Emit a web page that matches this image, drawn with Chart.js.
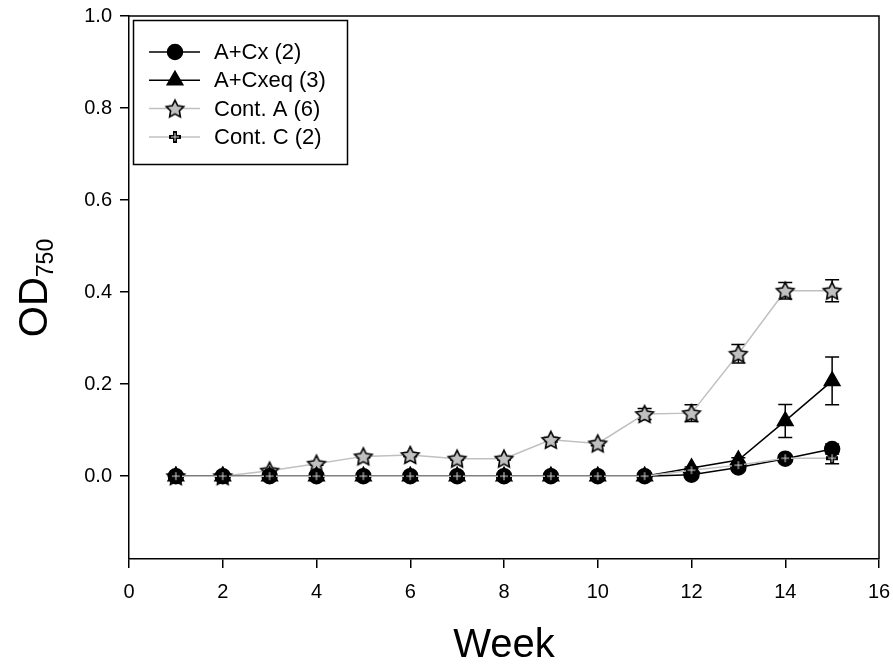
<!DOCTYPE html>
<html>
<head>
<meta charset="utf-8">
<script src="https://cdn.jsdelivr.net/npm/chart.js@4.4.1/dist/chart.umd.min.js"></script>
<style>
    body { margin: 0; background: #fff; }
    canvas { display: block; }
</style>
</head>
<body>
<canvas id="myChart" width="893" height="664"></canvas>
<script>
// Weeks on the x axis
const weeks = [1, 2, 3, 4, 5, 6, 7, 8, 9, 10, 11, 12, 13, 14, 15];

// OD750 means
const acx     = [0, 0, 0, 0, 0, 0, 0, 0, 0, 0, 0, 0.003, 0.019, 0.038, 0.059];
const acxeq   = [0, 0, 0, 0, 0, 0, 0, 0, 0, 0, 0, 0.018, 0.035, 0.120, 0.207];
const contA   = [0, 0, 0.012, 0.027, 0.043, 0.046, 0.038, 0.038, 0.079, 0.071, 0.135, 0.137, 0.266, 0.403, 0.403];
const contC   = [0, 0, 0, 0, 0, 0, 0, 0, 0, 0, 0, 0.013, 0.024, 0.039, 0.039];

// Error bar half-heights
const acxErr   = [0, 0, 0, 0, 0, 0, 0, 0, 0, 0, 0, 0, 0.003, 0.006, 0.011];
const acxeqErr = [0, 0, 0, 0, 0, 0, 0, 0, 0, 0, 0, 0.002, 0.005, 0.036, 0.052];
const contAErr = [0, 0, 0.002, 0.003, 0.003, 0.004, 0.003, 0.003, 0.005, 0.005, 0.012, 0.018, 0.020, 0.018, 0.024];
const contCErr = [0, 0, 0, 0, 0, 0, 0, 0, 0, 0, 0, 0.002, 0.004, 0.006, 0.012];

const seriesLabels = ['A+Cx (2)', 'A+Cxeq (3)', 'Cont. A (6)', 'Cont. C (2)'];
const xTicks = [0, 2, 4, 6, 8, 10, 12, 14, 16];
const yTicks = [0, 0.2, 0.4, 0.6, 0.8, 1.0];

const fontFamily = "'Liberation Sans', Arial, sans-serif";

// Star marker (grey fill, black outline)
function makeStar() {
    const c = document.createElement('canvas');
    c.width = 22;
    c.height = 22;
    const ctx = c.getContext('2d');
    ctx.beginPath();
    for (let i = 0; i < 10; i++) {
        const r = i % 2 === 0 ? 9.2 : 4.6;
        const a = -Math.PI / 2 + i * Math.PI / 5;
        const px = 11 + r * Math.cos(a);
        const py = 11.8 + r * Math.sin(a);
        if (i === 0) ctx.moveTo(px, py); else ctx.lineTo(px, py);
    }
    ctx.closePath();
    ctx.fillStyle = '#c0c0c0';
    ctx.fill();
    ctx.lineWidth = 1.6;
    ctx.strokeStyle = '#000';
    ctx.stroke();
    return c;
}

// Plus marker (black with light centre)
function makePlus() {
    const c = document.createElement('canvas');
    c.width = 12;
    c.height = 12;
    const ctx = c.getContext('2d');
    ctx.fillStyle = '#000';
    ctx.fillRect(4, 0, 4, 12);
    ctx.fillRect(0, 4, 12, 4);
    ctx.fillStyle = '#d8d8d8';
    ctx.fillRect(5.5, 2, 1, 8);
    ctx.fillRect(2, 5.5, 8, 1);
    return c;
}

const starImg = makeStar();
const plusImg = makePlus();

function toPoints(values) {
    return weeks.map((w, i) => ({ x: w, y: values[i] }));
}

const errorSets = [acxErr, acxeqErr, contAErr, contCErr];

// Draw vertical error bars under the markers
const errorBars = {
    id: 'errorBars',
    beforeDatasetsDraw(chart) {
        const ctx = chart.ctx;
        const xs = chart.scales.x;
        const ys = chart.scales.y;
        ctx.save();
        ctx.strokeStyle = '#000';
        ctx.lineWidth = 1.5;
        chart.data.datasets.forEach((ds, d) => {
            errorSets[d].forEach((e, i) => {
                if (!e) return;
                const px = xs.getPixelForValue(ds.data[i].x);
                const top = ys.getPixelForValue(ds.data[i].y + e);
                const bot = ys.getPixelForValue(ds.data[i].y - e);
                ctx.beginPath();
                ctx.moveTo(px, top);
                ctx.lineTo(px, bot);
                ctx.moveTo(px - 7, top);
                ctx.lineTo(px + 7, top);
                ctx.moveTo(px - 7, bot);
                ctx.lineTo(px + 7, bot);
                ctx.stroke();
            });
        });
        ctx.restore();
    }
};

// Box frame, axis titles and legend
const decorations = {
    id: 'decorations',
    afterDraw(chart) {
        const ctx = chart.ctx;
        const area = chart.chartArea;
        ctx.save();

        // top and right frame
        ctx.strokeStyle = '#000';
        ctx.lineWidth = 1.5;
        ctx.beginPath();
        ctx.moveTo(area.left, area.top);
        ctx.lineTo(area.right, area.top);
        ctx.lineTo(area.right, area.bottom);
        ctx.stroke();

        // x title
        ctx.fillStyle = '#000';
        ctx.font = '40px ' + fontFamily;
        ctx.textAlign = 'center';
        ctx.textBaseline = 'alphabetic';
        ctx.fillText('Week', (area.left + area.right) / 2, 657);

        // y title with subscript
        ctx.save();
        ctx.translate(47, 288);
        ctx.rotate(-Math.PI / 2);
        ctx.textAlign = 'left';
        ctx.font = '40px ' + fontFamily;
        const w1 = ctx.measureText('OD').width;
        ctx.font = '23px ' + fontFamily;
        const w2 = ctx.measureText('750').width;
        const start = -(w1 + w2) / 2;
        ctx.font = '40px ' + fontFamily;
        ctx.fillText('OD', start, 0);
        ctx.font = '23px ' + fontFamily;
        ctx.fillText('750', start + w1, 6);
        ctx.restore();

        // legend box
        ctx.lineWidth = 1.5;
        ctx.strokeRect(133.5, 20.5, 214, 144);
        ctx.font = '22px ' + fontFamily;
        ctx.textAlign = 'left';
        ctx.textBaseline = 'middle';
        chart.data.datasets.forEach((ds, d) => {
            const rowY = 52 + d * 28.3;
            ctx.strokeStyle = ds.borderColor;
            ctx.lineWidth = 1.5;
            ctx.beginPath();
            ctx.moveTo(149, rowY);
            ctx.lineTo(200, rowY);
            ctx.stroke();
            ctx.fillStyle = ds.pointBackgroundColor;
            ctx.strokeStyle = '#000';
            Chart.helpers.drawPoint(ctx, {
                pointStyle: ds.pointStyle,
                radius: ds.pointRadius,
                borderWidth: 1,
                rotation: 0
            }, 175, rowY);
            ctx.fillStyle = '#000';
            ctx.fillText(ds.label, 214, rowY + 1);
        });
        ctx.restore();
    }
};

const data = {
    datasets: [
        {
            label: seriesLabels[0],
            data: toPoints(acx),
            borderColor: '#000',
            borderWidth: 1.5,
            pointStyle: 'circle',
            pointRadius: 7.5,
            pointBackgroundColor: '#000',
            pointBorderColor: '#000',
            order: 1
        },
        {
            label: seriesLabels[1],
            data: toPoints(acxeq),
            borderColor: '#000',
            borderWidth: 1.5,
            pointStyle: 'triangle',
            pointRadius: 9,
            pointBackgroundColor: '#000',
            pointBorderColor: '#000',
            order: 2
        },
        {
            label: seriesLabels[2],
            data: toPoints(contA),
            borderColor: '#c0c0c0',
            borderWidth: 1.5,
            pointStyle: starImg,
            pointRadius: 9,
            pointBackgroundColor: '#c0c0c0',
            pointBorderColor: '#000',
            order: 3
        },
        {
            label: seriesLabels[3],
            data: toPoints(contC),
            borderColor: '#c0c0c0',
            borderWidth: 1.5,
            pointStyle: plusImg,
            pointRadius: 6,
            pointBackgroundColor: '#000',
            pointBorderColor: '#000',
            order: 0
        }
    ]
};

// Configure chart options
const options = {
    responsive: false,
    animation: false,
    layout: { padding: { top: 16, right: 14, bottom: 0, left: 0 } },
    plugins: {
        legend: { display: false },
        tooltip: { enabled: false }
    },
    scales: {
        x: {
            type: 'linear',
            min: 0,
            max: 16,
            afterBuildTicks: scale => { scale.ticks = xTicks.map(v => ({ value: v })); },
            afterFit: scale => {
                scale.height = 105;
                scale.paddingLeft = 0;
                scale.paddingRight = 0;
            },
            ticks: {
                color: '#000',
                font: { family: fontFamily, size: 20 },
                padding: 12,
                maxRotation: 0
            },
            grid: { drawOnChartArea: false, drawTicks: true, tickLength: 9, color: '#000', lineWidth: 1.5 },
            border: { display: true, color: '#000', width: 1.5 }
        },
        y: {
            type: 'linear',
            min: -0.18,
            max: 1.0,
            afterBuildTicks: scale => { scale.ticks = yTicks.map(v => ({ value: v })); },
            afterFit: scale => {
                scale.width = 129;
                scale.paddingTop = 0;
                scale.paddingBottom = 0;
            },
            ticks: {
                color: '#000',
                font: { family: fontFamily, size: 20 },
                padding: 8,
                callback: v => Number(v).toFixed(1)
            },
            grid: { drawOnChartArea: false, drawTicks: true, tickLength: 9, color: '#000', lineWidth: 1.5 },
            border: { display: true, color: '#000', width: 1.5 }
        }
    }
};

const ctx = document.getElementById('myChart').getContext('2d');
const myChart = new Chart(ctx, {
    type: 'line',
    data: data,
    options: options,
    plugins: [errorBars, decorations]
});
</script>
</body>
</html>
